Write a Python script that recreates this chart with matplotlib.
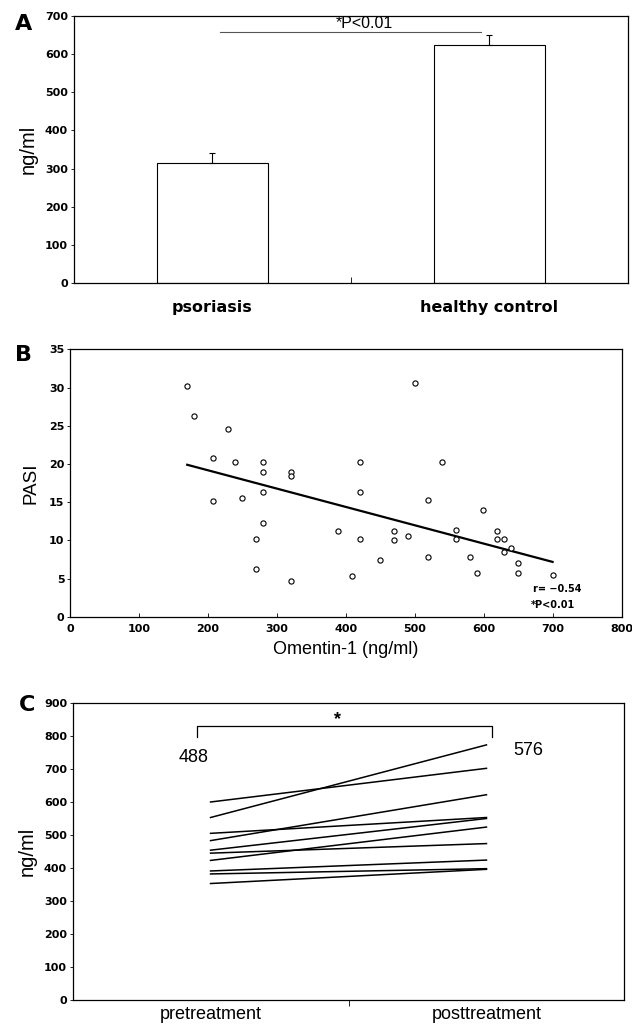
import matplotlib
matplotlib.use('Agg')
import matplotlib.pyplot as plt
from matplotlib.ticker import FixedLocator

plt.rcParams['font.family'] = ['Liberation Sans', 'DejaVu Sans']

# panel A: serum omentin-1
groups = ['psoriasis', 'healthy control']
group_mean = [315, 625]
group_err = [26, 25]

# panel B: PASI vs omentin-1
omentin = [169, 180, 229, 208, 239, 280, 280, 320, 320, 420, 280, 420, 208, 250,
           280, 270, 270, 320, 389, 420, 409, 450, 470, 470, 490, 500, 540, 520,
           520, 560, 560, 580, 590, 599, 620, 620, 630, 630, 640, 650, 650, 700]
pasi = [30.2, 26.3, 24.6, 20.8, 20.3, 20.3, 19.0, 19.0, 18.4, 20.3, 16.4, 16.4,
        15.2, 15.6, 12.3, 10.2, 6.3, 4.7, 11.3, 10.2, 5.4, 7.5, 11.2, 10.1, 10.6,
        30.6, 20.3, 15.3, 7.9, 11.4, 10.2, 7.9, 5.7, 14.0, 11.3, 10.2, 10.2, 8.5,
        9.0, 7.0, 5.7, 5.5]
fit_x = [170, 700]
fit_y = [19.9, 7.2]

# panel C: before / after treatment
phases = ['pretreatment', 'posttreatment']
pre = [600, 553, 505, 483, 454, 445, 423, 391, 382, 353]
post = [702, 773, 553, 622, 550, 474, 524, 424, 398, 396]
pre_mean = 488
post_mean = 576

tick_font = dict(family='DejaVu Sans', weight='bold', size=8)

fig = plt.figure(figsize=(6.32, 10.30), dpi=100)


def style_ticks(ax):
    for lab in ax.get_yticklabels():
        lab.set_fontproperties(matplotlib.font_manager.FontProperties(**tick_font))
    for sp in ax.spines.values():
        sp.set_linewidth(0.9)


# ---- A ----
ax = fig.add_axes([0.1163, 0.7252, 0.8774, 0.2592])
x = [0, 1]
ax.bar(x, group_mean, width=0.4, color='white', edgecolor='black', linewidth=0.8)
ax.errorbar(x, group_mean, yerr=[[0, 0], group_err], fmt='none', ecolor='black',
            elinewidth=0.8, capsize=2.5, capthick=0.8)
ax.set_xlim(-0.5, 1.5)
ax.set_ylim(0, 700)
ax.set_yticks(range(0, 701, 100))
ax.tick_params(axis='y', direction='out', length=2, width=0.6, pad=2)
ax.set_xticks(x)
ax.set_xticklabels(groups, fontsize=11.5, fontweight='bold', family='DejaVu Sans')
ax.tick_params(axis='x', length=0, pad=12)
ax.xaxis.set_minor_locator(FixedLocator([0.5]))
ax.tick_params(axis='x', which='minor', direction='in', length=4, width=0.6)
ax.set_ylabel('ng/ml', fontsize=14.5, labelpad=5)
ax.plot([0.03, 0.97], [659, 659], color='#555555', lw=0.8)
ax.text(0.55, 662, '*P<0.01', ha='center', va='bottom', fontsize=11.5)
style_ticks(ax)
fig.text(0.024, 0.977, 'A', fontsize=16, fontweight='bold', family='DejaVu Sans',
         va='center')

# ---- B ----
ax = fig.add_axes([0.1108, 0.401, 0.8726, 0.2599])
ax.scatter(omentin, pasi, s=14, facecolors='white', edgecolors='black',
           linewidths=0.8, zorder=3)
ax.plot(fit_x, fit_y, color='black', lw=1.6)
ax.set_xlim(0, 800)
ax.set_ylim(0, 35)
ax.set_yticks(range(0, 36, 5))
ax.set_xticks(range(0, 801, 100))
ax.tick_params(axis='y', direction='out', length=2, width=0.6, pad=2)
ax.tick_params(axis='x', direction='in', length=3, width=0.6, pad=5)
for lab in ax.get_xticklabels():
    lab.set_fontproperties(matplotlib.font_manager.FontProperties(**tick_font))
ax.set_ylabel('PASI', fontsize=13.5, labelpad=7)
ax.set_xlabel('Omentin-1 (ng/ml)', fontsize=13, labelpad=5)
ax.text(672, 3.6, 'r= \u22120.54', fontsize=7, fontweight='bold',
        family='DejaVu Sans', va='center')
ax.text(668, 1.6, '*P<0.01', fontsize=7, fontweight='bold',
        family='DejaVu Sans', va='center')
style_ticks(ax)
fig.text(0.024, 0.655, 'B', fontsize=16, fontweight='bold', family='DejaVu Sans',
         va='center')

# ---- C ----
ax = fig.add_axes([0.1149, 0.0291, 0.8731, 0.2884])
for a, b in zip(pre, post):
    ax.plot([0, 1], [a, b], color='black', lw=1.1)
ax.set_xlim(-0.5, 1.5)
ax.set_ylim(0, 900)
ax.set_yticks(range(0, 901, 100))
ax.tick_params(axis='y', direction='out', length=2, width=0.6, pad=2)
ax.set_xticks([0, 1])
ax.set_xticklabels(phases, fontsize=13)
ax.tick_params(axis='x', length=0, pad=4)
ax.xaxis.set_minor_locator(FixedLocator([0.5]))
ax.tick_params(axis='x', which='minor', direction='out', length=4, width=0.6)
ax.set_ylabel('ng/ml', fontsize=14.5, labelpad=5)
ax.plot([-0.05, -0.05, 1.02, 1.02], [797, 831, 831, 797], color='black', lw=0.9)
ax.text(0.46, 850, '*', ha='center', va='center', fontsize=13, fontweight='bold')
ax.text(-0.06, 736, str(pre_mean), ha='center', va='center', fontsize=13)
ax.text(1.15, 755, str(post_mean), ha='center', va='center', fontsize=13)
style_ticks(ax)
fig.text(0.03, 0.316, 'C', fontsize=16, fontweight='bold', family='DejaVu Sans',
         va='center')

plt.savefig('out.png', dpi=100)
